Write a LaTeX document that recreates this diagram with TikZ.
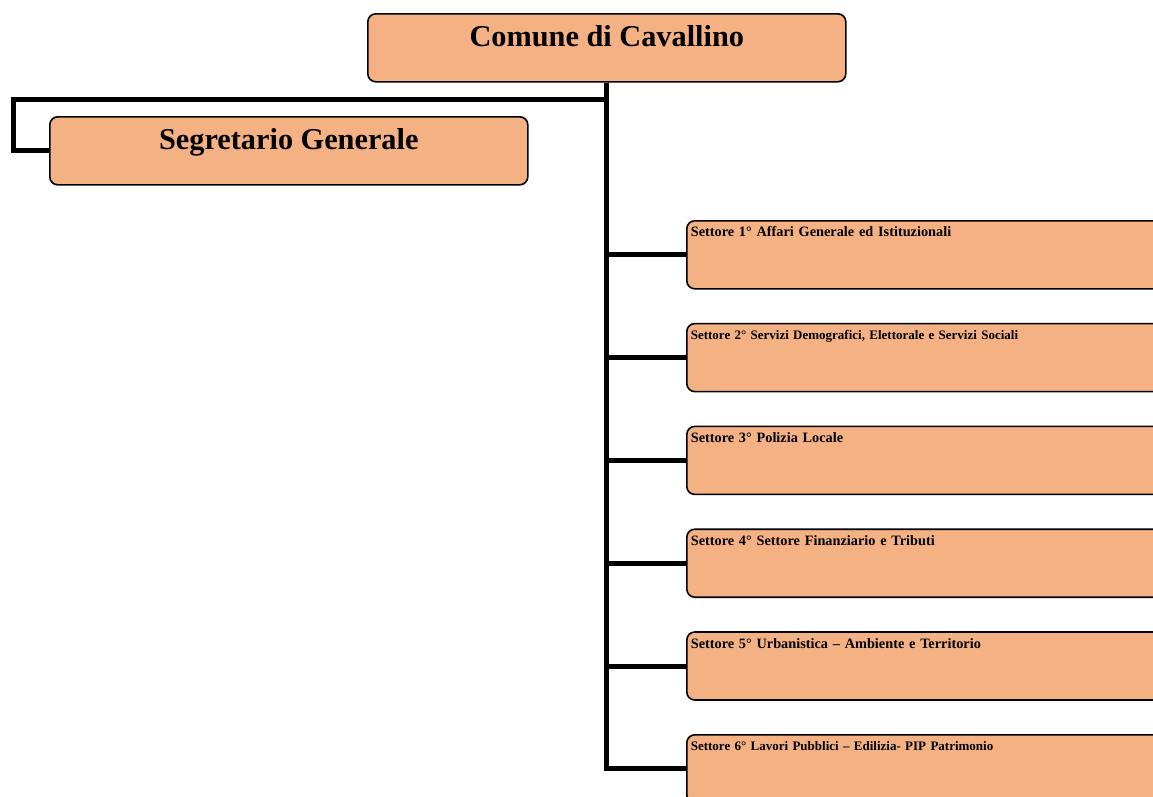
\documentclass[tikz,border=0pt]{standalone}
\usepackage{fontspec}
\setmainfont{Liberation Serif}
\usetikzlibrary{positioning}
\definecolor{boxorange}{RGB}{244,177,131}

\begin{document}
\begin{tikzpicture}[x=1pt, y=-1pt,
  ente/.style={draw, line width=1.6pt, rounded corners=8pt, fill=boxorange,
    inner sep=0pt, font=\fontsize{30.3}{36}\selectfont\bfseries,
    text height=33pt, text depth=35pt, minimum width=478pt},
  settore/.style={ente, font=\fontsize{#1}{17}\selectfont\bfseries,
    text width=470pt, align=left, inner xsep=4pt,
    text height=16pt, text depth=52pt},
  link/.style={line width=5pt}]
  \useasboundingbox (0,0) rectangle (1153,796);
  \clip (0,0) rectangle (1153,796);

  % top of the chart
  \node[ente, anchor=north west] (comune) at (367,13) {Comune di Cavallino};
  \node[ente, anchor=north west] (segretario) at (49,116) {Segretario Generale};
  \draw[link] (comune.south) -- ++(0,17) -| ([xshift=-36pt]segretario.west)
    -- (segretario.west);

  % the six settori hanging off the trunk
  \foreach \n/\fs/\txt in {1/14.3/{Affari Generale ed Istituzionali},
      2/13/{Servizi Demografici, Elettorale e Servizi Sociali},
      3/14.3/{Polizia Locale},
      4/14.3/{Settore Finanziario e Tributi},
      5/14.3/{Urbanistica – Ambiente e Territorio},
      6/13/{Lavori Pubblici – Edilizia- PIP Patrimonio}} {
    \node[settore=\fs, anchor=north west] (s\n) at (686,{220+102.8*(\n-1)})
      {Settore \n° \txt};
    \draw[link] (comune.south) |- (s\n.west);
  }
\end{tikzpicture}
\end{document}
